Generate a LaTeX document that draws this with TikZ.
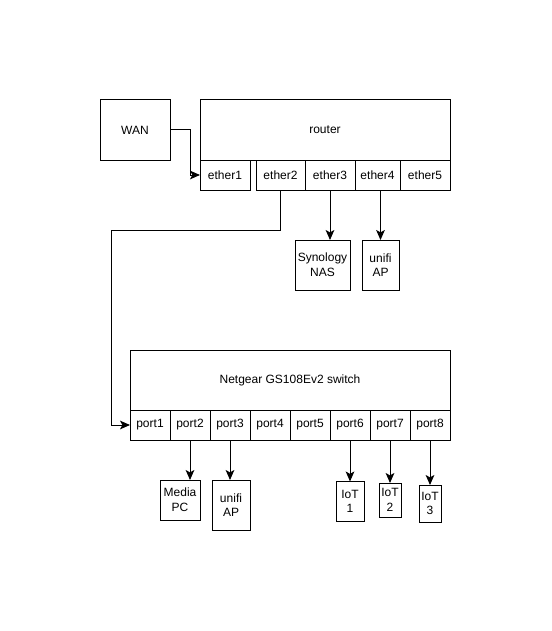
\documentclass[tikz,border=0pt]{standalone}
\usepackage{fontspec}
\setmainfont{Liberation Sans}
\usetikzlibrary{arrows.meta}
\begin{document}
\begin{tikzpicture}[x=0.75pt,y=-0.75pt,
  box/.style={draw=black, line width=0.75pt, inner sep=0pt, outer sep=0pt, align=center, font=\fontsize{9}{11}\selectfont},
  arr/.style={draw=black, line width=0.75pt, -{Stealth[length=7.5pt,width=6.5pt,inset=1.8pt]}},
  ln/.style={draw=black, line width=0.75pt}]
\useasboundingbox (0,0) rectangle (551,631);
% WAN
\node[box, minimum width=52.5pt, minimum height=45pt] (wan) at (135,130) {WAN};
% router
\node[box, minimum width=187.5pt, minimum height=45pt] (router) at (325,130) {router};
\node[box, minimum width=37.5pt, minimum height=22.5pt] (e1) at (225,175) {ether1};
\node[box, minimum width=36.75pt, minimum height=22.5pt] (e2) at (280.5,175) {ether2};
\node[box, minimum width=37.5pt, minimum height=22.5pt] (e3) at (330,175) {ether3};
\node[box, minimum width=33.75pt, minimum height=22.5pt] (e4) at (377.5,175) {ether4};
\node[box, minimum width=37.5pt, minimum height=22.5pt] (e5) at (425,175) {ether5};
% router devices
\node[box, minimum width=41.25pt, minimum height=37.5pt] (nas) at (322.5,265) {Synology\\NAS};
\node[box, minimum width=27.75pt, minimum height=37.5pt] (ap1) at (380.5,265) {unifi\\AP};
% switch
\node[box, minimum width=240pt, minimum height=45pt] (sw) at (290,380) {Netgear GS108Ev2 switch};
\foreach \i/\x in {1/150,2/190,3/230,4/270,5/310,6/350,7/390,8/430}
  \node[box, minimum width=30pt, minimum height=22.5pt] (p\i) at (\x,425) {port\i};
% switch devices
\node[box, minimum width=30pt, minimum height=30pt] (pc) at (180,500) {Media\\PC};
\node[box, minimum width=28.5pt, minimum height=37.5pt] (ap2) at (231,505) {unifi\\AP};
\node[box, minimum width=21pt, minimum height=30pt] (iot1) at (350,501.5) {IoT\\1};
\node[box, minimum width=16.5pt, minimum height=25.5pt] (iot2) at (390,500) {IoT\\2};
\node[box, minimum width=16.5pt, minimum height=27.75pt] (iot3) at (430,503.5) {IoT\\3};
% connectors
\draw[arr] (wan.east) -- ++(20,0) |- (e1.west);
\coordinate (bend) at (111,230);
\draw[arr] (e2.south) |- (bend) |- (p1.west);
\draw[arr] (e3.south) -- (e3.south |- nas.north);
\draw[arr] (ap1.north |- e4.south) -- (ap1.north);
\draw[arr] (p2.south) -- (p2.south |- pc.north);
\draw[arr] (p3.south) -- (p3.south |- ap2.north);
\draw[arr] (p6.south) -- (p6.south |- iot1.north);
\draw[arr] (p7.south) -- (p7.south |- iot2.north);
\draw[arr] (p8.south) -- (p8.south |- iot3.north);
\end{tikzpicture}
\end{document}
